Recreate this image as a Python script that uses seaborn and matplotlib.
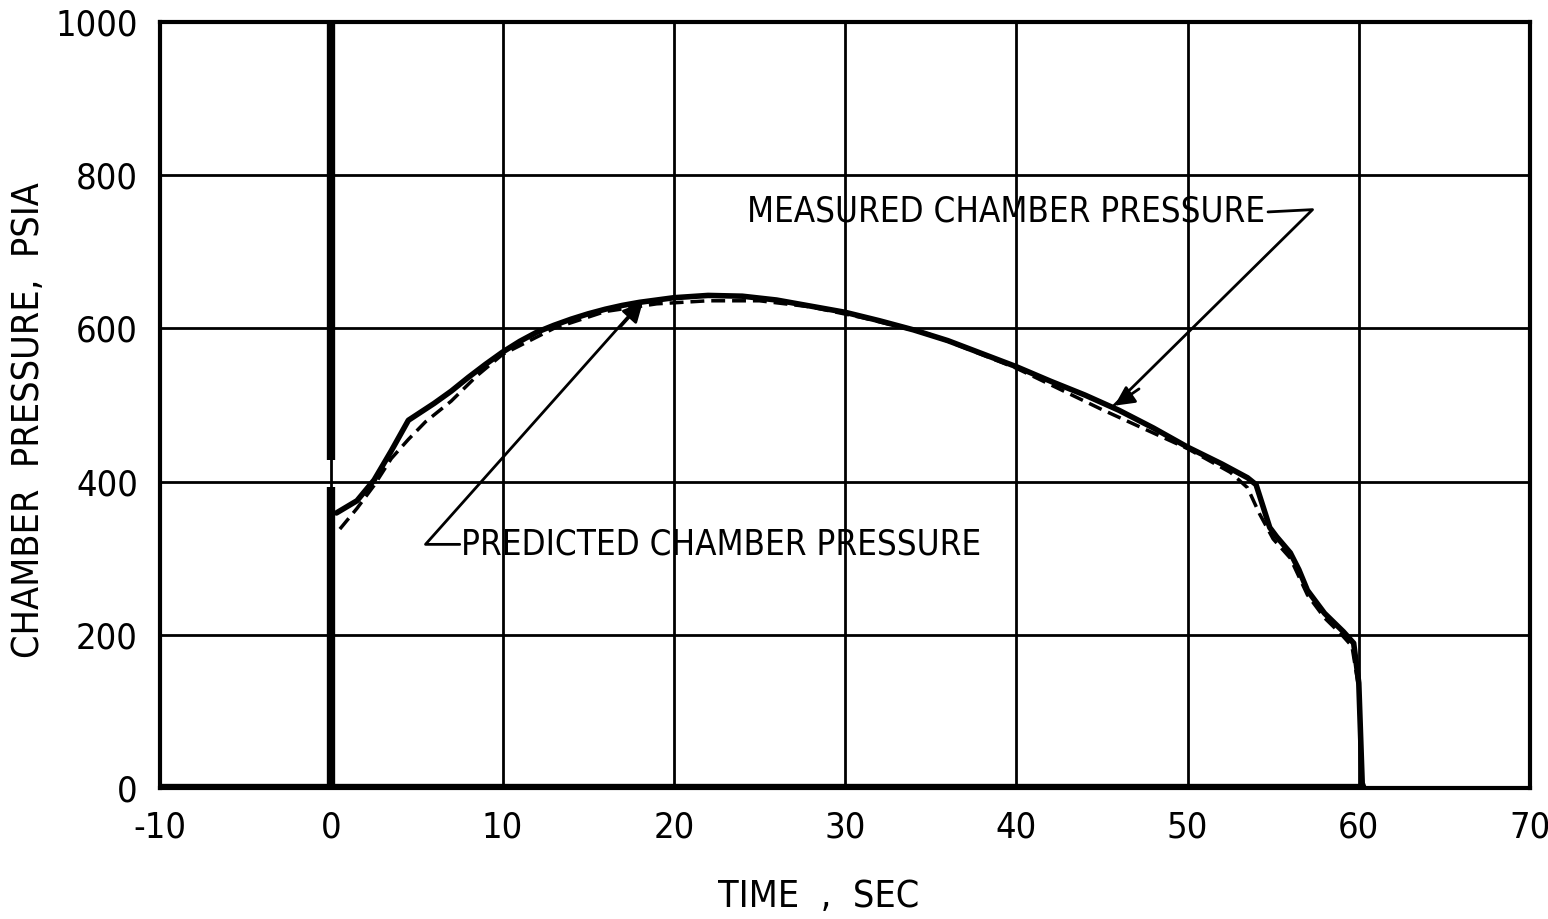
import numpy as np
import pandas as pd
import matplotlib
matplotlib.use("Agg")
import matplotlib.pyplot as plt
import seaborn as sns

# measured chamber pressure
meas_t = [0.3, 1.5, 2.5, 3.5, 4.5, 6.0, 7.0, 8.0, 9.0, 10.0, 11.0, 12.0, 13.0,
          14.0, 15.0, 16.0, 17.0, 18.0, 19.0, 20.0, 22.0, 24.0, 26.0, 28.0, 30.0,
          32.0, 34.0, 36.0, 38.0, 40.0, 42.0, 44.0, 46.0, 48.0, 50.0, 52.0, 53.5,
          54.0, 54.4, 54.8, 55.2, 56.0, 56.5, 57.0, 58.0, 59.1, 59.7, 60.0, 60.2, 60.3]
meas_p = [359, 375, 402, 440, 480, 502, 518, 536, 553, 569, 583, 595, 604,
          612, 619, 625, 630, 634, 637, 640, 643, 642, 637, 629, 621,
          610, 598, 584, 567, 550, 531, 513, 493, 470, 445, 423, 405,
          396, 368, 340, 328, 307, 285, 258, 228, 204, 189, 137, 6, 0]

# predicted chamber pressure (dashed)
pred_t = [0.5, 1.5, 2.5, 3.5, 4.5, 5.5, 7.0, 8.5, 10.0, 13.0, 16.0, 19.0, 22.0, 25.0,
          28.0, 31.0, 35.0, 40.0, 45.0, 50.0, 52.5, 53.5, 54.2, 55.0, 56.0, 57.0,
          58.0, 59.0, 59.6, 60.0, 60.2]
pred_p = [338, 365, 395, 430, 455, 478, 505, 538, 566, 600, 622, 632, 636, 636,
          628, 614, 592, 548, 494, 443, 412, 392, 358, 325, 300, 252,
          222, 200, 185, 130, 0]

x_ticks = [-10, 0, 10, 20, 30, 40, 50, 60, 70]
y_ticks = [0, 200, 400, 600, 800, 1000]

sns.set_style("white")
plt.rcParams['font.family'] = ['DejaVu Sans']
plt.rcParams['font.stretch'] = 'condensed'
plt.rcParams['text.color'] = 'black'
plt.rcParams['axes.labelcolor'] = 'black'
plt.rcParams['xtick.color'] = 'black'
plt.rcParams['ytick.color'] = 'black'

fig = plt.figure(figsize=(15.48, 9.19), dpi=100)
ax = fig.add_axes([0.1034, 0.1426, 0.8850, 0.8335])

for xv in x_ticks:
    ax.axvline(xv, color='black', lw=2, zorder=1)
for yv in y_ticks:
    ax.axhline(yv, color='black', lw=2, zorder=1)

# thick ignition spike at t=0 (with the break seen on the original)
ax.plot([0, 0], [0, 393], color='black', lw=6, zorder=3, solid_capstyle='butt')
ax.plot([0, 0], [428, 1000], color='black', lw=6, zorder=3, solid_capstyle='butt')
# heavy baseline
ax.plot([-10, 60.2], [0, 0], color='black', lw=6, zorder=3)

meas = pd.DataFrame({'t': meas_t, 'p': meas_p})
pred = pd.DataFrame({'t': pred_t, 'p': pred_p})
sns.lineplot(data=meas, x='t', y='p', ax=ax, color='black', lw=4, sort=False, zorder=4)
sns.lineplot(data=pred, x='t', y='p', ax=ax, color='black', lw=2.5, sort=False,
             linestyle=(0, (4, 2)), zorder=4)

font = dict(fontsize=25, color='black')

# annotations
ax.text(54.5, 752, 'MEASURED CHAMBER PRESSURE', ha='right', va='center', **font)
ax.plot([54.7, 57.3, 45.6], [752, 755, 497], color='black', lw=2, zorder=5)
ax.annotate('', xy=(45.6, 497), xytext=(47.3, 523),
            arrowprops=dict(arrowstyle='-|>', color='black', lw=2, mutation_scale=30))

ax.text(7.6, 318, 'PREDICTED CHAMBER PRESSURE', ha='left', va='center', **font)
ax.plot([7.5, 5.5, 18.0], [318, 318, 632], color='black', lw=2, zorder=5)
ax.annotate('', xy=(18.3, 637), xytext=(16.8, 600),
            arrowprops=dict(arrowstyle='-|>', color='black', lw=2, mutation_scale=30))

ax.set_xlim(-10, 70)
ax.set_ylim(0, 1000)
ax.set_xticks(x_ticks)
ax.set_yticks(y_ticks)
ax.set_xticklabels([str(v) for v in x_ticks], fontsize=26)
ax.set_yticklabels([str(v) for v in y_ticks], fontsize=26)
ax.tick_params(length=0, labelcolor='black')
ax.tick_params(axis='x', pad=16)
ax.tick_params(axis='y', pad=16)
for s in ax.spines.values():
    s.set_color('black')
    s.set_linewidth(3)

ax.set_xlabel('TIME  ,  SEC', fontsize=27, va='center', color='black')
ax.xaxis.set_label_coords(0.481, -0.143)
ax.set_ylabel('CHAMBER  PRESSURE,  PSIA', fontsize=27, va='center', color='black')
ax.yaxis.set_label_coords(-0.096, 0.48)

fig.savefig('out.png', dpi=100)
